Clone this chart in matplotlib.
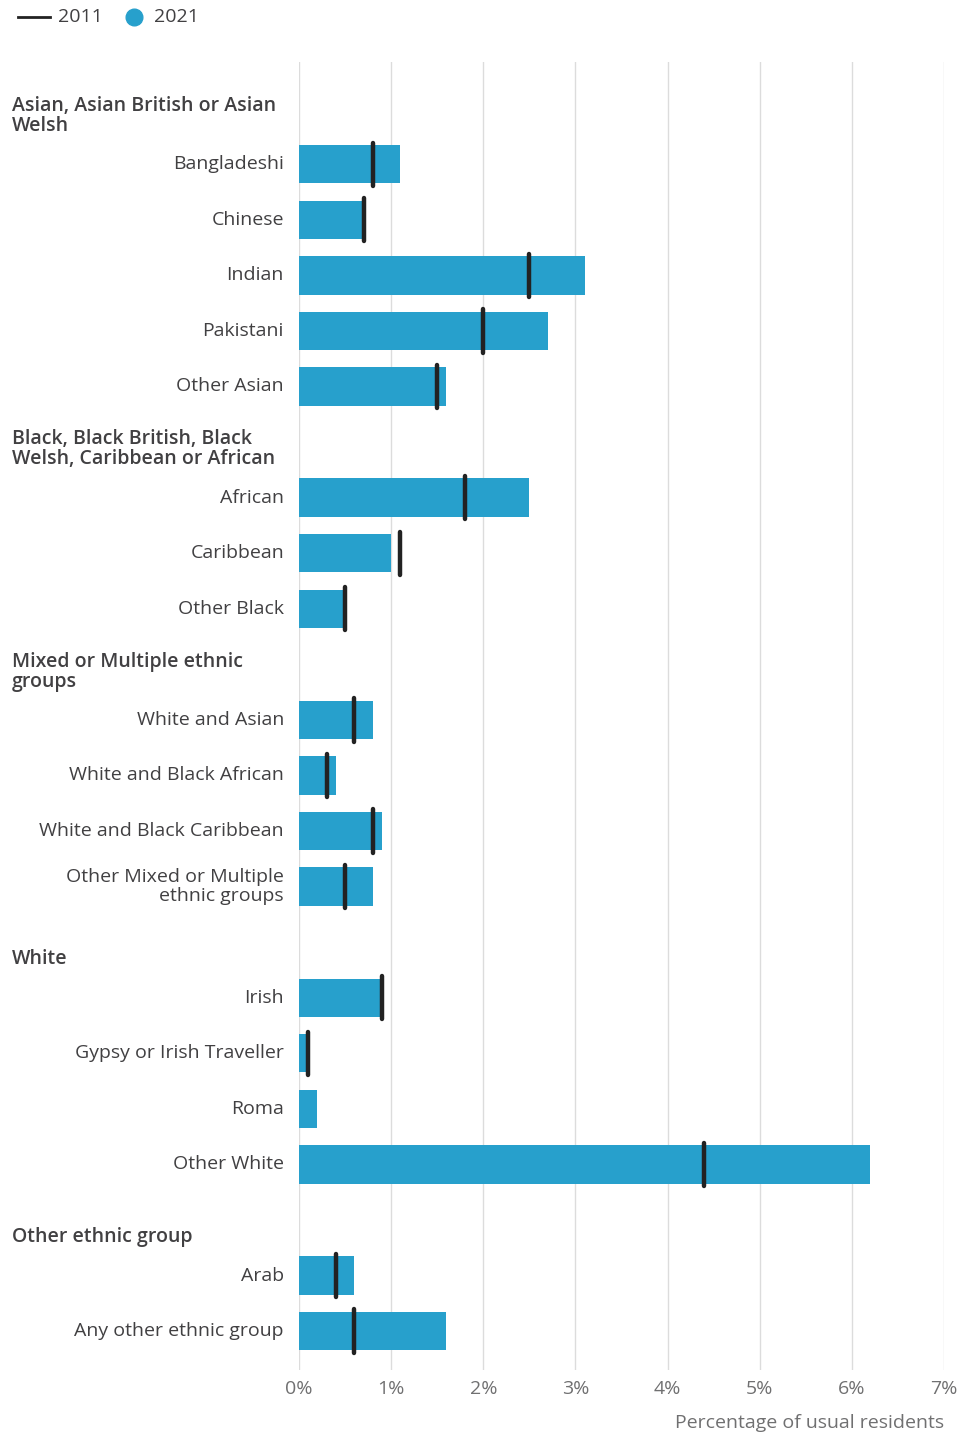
import numpy as np
import matplotlib
matplotlib.use("Agg")
from matplotlib import pyplot as plt
from matplotlib import transforms
from matplotlib.lines import Line2D

plt.rcParams['font.family'] = ['Open Sans', 'DejaVu Sans']

# group headers and their categories
groups = [
    "Asian, Asian British or Asian\nWelsh",
    "Black, Black British, Black\nWelsh, Caribbean or African",
    "Mixed or Multiple ethnic\ngroups",
    "White",
    "Other ethnic group",
]
categories = [
    ["Bangladeshi", "Chinese", "Indian", "Pakistani", "Other Asian"],
    ["African", "Caribbean", "Other Black"],
    ["White and Asian", "White and Black African", "White and Black Caribbean",
     "Other Mixed or Multiple\nethnic groups"],
    ["Irish", "Gypsy or Irish Traveller", "Roma", "Other White"],
    ["Arab", "Any other ethnic group"],
]
# percentage of usual residents
pct_2021 = [
    [1.1, 0.7, 3.1, 2.7, 1.6],
    [2.5, 1.0, 0.5],
    [0.8, 0.4, 0.9, 0.8],
    [0.9, 0.1, 0.2, 6.2],
    [0.6, 1.6],
]
pct_2011 = [
    [0.8, 0.7, 2.5, 2.0, 1.5],
    [1.8, 1.1, 0.5],
    [0.6, 0.3, 0.8, 0.5],
    [0.9, 0.1, np.nan, 4.4],
    [0.4, 0.6],
]
xticks = [0, 1, 2, 3, 4, 5, 6, 7]

BLUE = "#27a0cc"
TEXT = "#414042"
GREY = "#707071"
FS = 14

fig = plt.figure(figsize=(9.6, 14.32), dpi=100)
W, H = 960, 1432
ax = fig.add_axes([299 / W, 1 - 1370 / H, (944 - 299) / W, (1370 - 62) / H])

# build slot positions: one slot per header, one per category
header_y = []
cat_y, cat_lab, v21, v11 = [], [], [], []
slot = 0
for g, cats, a, b in zip(groups, categories, pct_2021, pct_2011):
    header_y.append(slot)
    slot += 1
    for c, x1, x0 in zip(cats, a, b):
        cat_y.append(slot)
        cat_lab.append(c)
        v21.append(x1)
        v11.append(x0)
        slot += 1
cat_y = np.array(cat_y)
v21 = np.array(v21)
v11 = np.array(v11)

ax.barh(cat_y, v21, height=0.69, color=BLUE, zorder=2)
ok = ~np.isnan(v11)
ax.vlines(v11[ok], cat_y[ok] - 0.39, cat_y[ok] + 0.39, color="#222222",
          linewidth=3.2, capstyle="round", zorder=3)

ax.set_ylim(slot - 1 + 0.70, -0.84)
ax.set_xlim(0, 7)
ax.set_xticks(xticks)
ax.set_xticklabels([f"{t}%" for t in xticks], color=GREY, fontsize=FS)
ax.tick_params(axis="x", length=0, pad=7)
ax.set_yticks([])
for s in ax.spines.values():
    s.set_visible(False)
ax.grid(axis="x", color="#dcdcdc", linewidth=1, zorder=0)
ax.set_axisbelow(True)
ax.set_xlabel("Percentage of usual residents", loc="right", color=GREY,
              fontsize=FS, labelpad=12)

tr = transforms.blended_transform_factory(fig.transFigure, ax.transData)
for y, lab in zip(cat_y, cat_lab):
    fig.text(284 / W, y, lab, transform=tr, ha="right", va="center",
             multialignment="right", color=TEXT, fontsize=FS, linespacing=1.05)
for y, g in zip(header_y, groups):
    fig.text(12 / W, y + 0.40, g, transform=tr, ha="left", va="baseline",
             color=TEXT, fontsize=FS, fontweight="semibold", linespacing=1.0)

# legend
ly = 1 - 17 / H
fig.add_artist(Line2D([18 / W, 50 / W], [ly, ly], transform=fig.transFigure,
                      color="#222222", linewidth=2))
fig.text(58 / W, ly, "2011", ha="left", va="center", color=TEXT, fontsize=FS)
fig.add_artist(Line2D([134 / W], [ly], transform=fig.transFigure, marker="o",
                      markersize=12, color=BLUE, linestyle="none"))
fig.text(154 / W, ly, "2021", ha="left", va="center", color=TEXT, fontsize=FS)

fig.savefig("out.png", dpi=100, facecolor="white")
